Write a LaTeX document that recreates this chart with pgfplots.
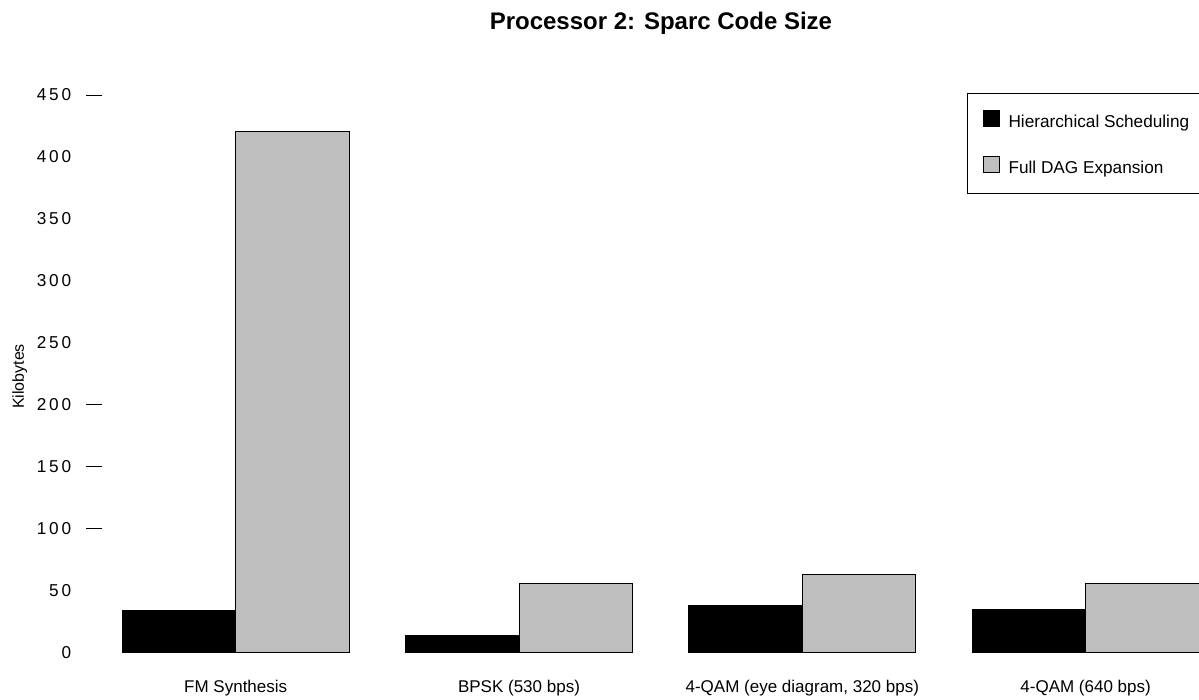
\documentclass[border=0pt]{standalone}
\usepackage{pgfplots}
\pgfplotsset{compat=1.18}
\usepackage{fontspec}
\setmainfont{Liberation Sans}
\newfontfamily\mytickfont[LetterSpace=17]{Liberation Sans}
\definecolor{barGray}{RGB}{190,190,190}
\begin{document}
\begin{tikzpicture}
\path[use as bounding box] (0,0) rectangle (599.5pt,350pt);
\begin{axis}[
  at={(51pt,23.75pt)}, anchor=south west,
  scale only axis, width=548.75pt, height=278.75pt,
  xmin=-0.4719, xmax=3.4020, ymin=0, ymax=450,
  ybar=0pt, bar width=56.75pt,
  axis line style={draw=none},
  tick pos=left,
  major tick length=0pt,
  xtick={0,1,2,3},
  xticklabels={FM Synthesis, BPSK (530 bps), {4-QAM (eye diagram, 320 bps)}, 4-QAM (640 bps)},
  xticklabel style={anchor=base, yshift=-19.9pt, inner sep=0pt, font=\fontsize{8.5}{10}\selectfont},
  ytick={0,50,...,450},
  yticklabels={0,50,100,150,200,250,300,350,400,450},
  yticklabel style={anchor=east, inner sep=0pt, xshift=-15.15pt, font=\mytickfont\fontsize{8.6}{10}\selectfont},
  extra y ticks={100,150,200,450},
  extra y tick labels={},
  extra y tick style={grid=none, major tick length=8pt, tick align=outside, tick style={draw=black, line width=0.5pt}},
  title={Processor 2: Sparc Code Size},
  title style={at={(0.5093,1)}, anchor=base, yshift=26.85pt, inner sep=0pt, font=\bfseries\fontsize{12}{14}\selectfont},
  ylabel={Kilobytes},
  ylabel style={at={(axis description cs:-0.07107,0.4951)}, anchor=base, inner sep=0pt, font=\fontsize{8}{10}\selectfont},
  legend style={at={(0.7882,1.003)}, anchor=north west, draw=black, line width=0.5pt, fill=white,
    inner xsep=7.5pt, inner ysep=7.9pt, row sep=12.4pt, column sep=4.5pt,
    nodes={inner sep=0pt, text height=6.3pt, text depth=1.8pt, font=\fontsize{8.6}{10}\selectfont},
    cells={anchor=west}},
  legend image code/.code={\draw[#1, draw=black, line width=0.5pt] (0pt,-1.6pt) rectangle (8pt,6.4pt);},
]
\addplot[fill=black, draw=black, line width=0.5pt] coordinates {(0,34.3) (1,14.1) (2,37.8) (3,34.9)};
\addplot[fill=barGray, draw=black, line width=0.5pt] coordinates {(0,420.4) (1,55.9) (2,62.8) (3,55.9)};
\legend{Hierarchical Scheduling, Full DAG Expansion}
\end{axis}
\end{tikzpicture}
\end{document}
